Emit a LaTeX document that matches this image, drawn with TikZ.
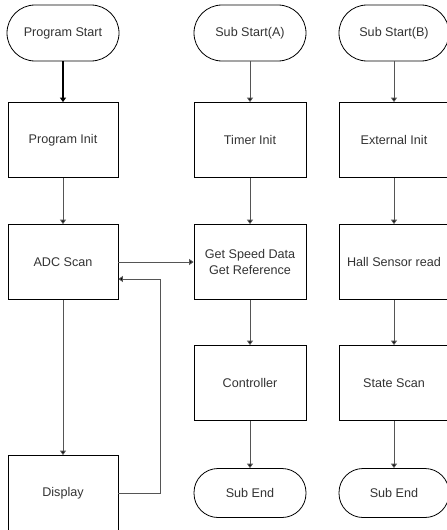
\documentclass[tikz,border=0pt]{standalone}
\usepackage{fontspec}
\setmainfont{Liberation Sans}
\usetikzlibrary{arrows.meta}
\definecolor{txt}{HTML}{333333}
\definecolor{ln}{HTML}{555555}
\begin{document}
\begin{tikzpicture}[x=1pt,y=-1pt,
  font=\fontsize{12.6}{15.5}\selectfont,
  box/.style={draw=black,line width=0.8pt,text=txt,minimum width=#1,minimum height=75pt,inner sep=0pt,align=center,anchor=center},
  box/.default=110pt,
  term/.style={draw=black,line width=0.8pt,text=txt,rounded corners=24pt,minimum width=112pt,minimum height=49pt,inner sep=0pt,anchor=center},
  conn/.style={draw=ln,line width=0.9pt,-{Triangle[length=4.5pt,width=6pt,fill=black]}}]
\useasboundingbox (0,0) rectangle (447,530);
% column 1
\node[term,rounded corners=28pt,minimum height=56pt] (ps) at (63,33) {Program Start};
\node[box] (pi) at (63,140) {Program Init};
\node[box] (adc) at (63,262) {ADC Scan};
\node[box] (disp) at (63,493) {Display};
% column 2
\node[term,rounded corners=28pt,minimum height=56pt] (sa) at (250,33) {Sub Start(A)};
\node[box=112pt] (ti) at (250,140) {Timer Init};
\node[box=112pt] (gs) at (250,262) {Get Speed Data\\Get Reference};
\node[box=112pt] (ctl) at (250,383) {Controller};
\node[term] (sea) at (250,493) {Sub End};
% column 3
\node[term,rounded corners=28pt,minimum height=56pt,minimum width=110pt] (sb) at (394,33) {Sub Start(B)};
\node[box] (ei) at (394,140) {External Init};
\node[box] (hs) at (394,262) {Hall Sensor read};
\node[box] (ss) at (394,383) {State Scan};
\node[term,minimum width=110pt] (seb) at (394,493) {Sub End};
% connectors
\draw[conn,draw=black,line width=1.3pt] (ps) -- (pi);
\draw[conn] (pi) -- (adc);
\draw[conn] (adc) -- (disp);
\draw[conn] (sa) -- (ti);
\draw[conn] (ti) -- (gs);
\draw[conn] (gs) -- (ctl);
\draw[conn] (ctl) -- (sea);
\draw[conn] (sb) -- (ei);
\draw[conn] (ei) -- (hs);
\draw[conn] (hs) -- (ss);
\draw[conn] (ss) -- (seb);
\draw[conn] (adc.east) -- (gs.west);
\coordinate (fb1) at (160,493);
\coordinate (fb2) at (160,279);
\draw[conn] (disp.east) -- (fb1) -- (fb2) -- (adc.east |- fb2);
\end{tikzpicture}
\end{document}
